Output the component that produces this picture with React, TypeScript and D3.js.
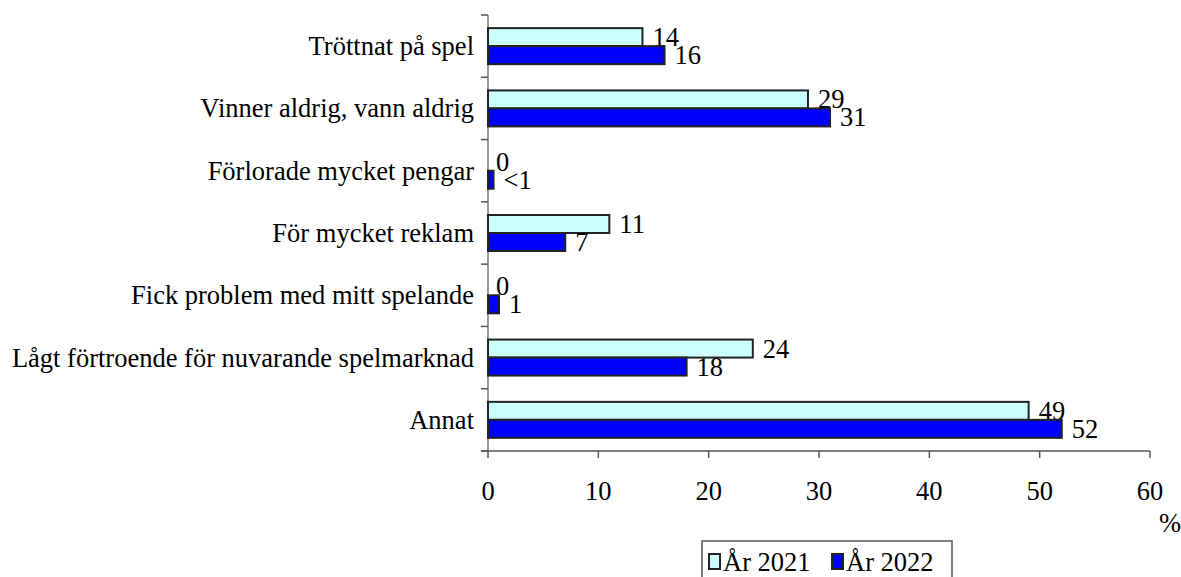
import React, { useEffect, useRef } from "react";
import * as d3 from "d3";

const categories = [
  "Tröttnat på spel",
  "Vinner aldrig, vann aldrig",
  "Förlorade mycket pengar",
  "För mycket reklam",
  "Fick problem med mitt spelande",
  "Lågt förtroende för nuvarande spelmarknad",
  "Annat",
];
const seriesNames = ["År 2021", "År 2022"];
const values2021 = [14, 29, 0, 11, 0, 24, 49];
const values2022 = [16, 31, 0.5, 7, 1, 18, 52];
const labels2021 = ["14", "29", "0", "11", "0", "24", "49"];
const labels2022 = ["16", "31", "<1", "7", "1", "18", "52"];
const xTicks = [0, 10, 20, 30, 40, 50, 60];
const colors = ["#CCFFFF", "#0000FF"];

const App = () => {
  const svgRef = useRef<SVGSVGElement>(null);

  useEffect(() => {
    const width = 1181;
    const height = 577;

    const svg = d3.select(svgRef.current);
    svg.selectAll("*").remove();
    svg
      .attr("width", width)
      .attr("height", height)
      .attr("font-family", "Liberation Serif, Times New Roman, serif")
      .attr("font-size", 26.5);

    const x = d3.scaleLinear().domain([0, 60]).range([488, 1150]);
    const y = d3.scaleBand<string>().domain(categories).range([15, 451]).padding(0);
    const yInner = d3
      .scaleBand<string>()
      .domain(seriesNames)
      .range([0, y.bandwidth()])
      .paddingInner(0)
      .paddingOuter(0.73);

    const rows = categories.map((c, i) => ({
      cat: c,
      vals: [values2021[i], values2022[i]],
      labs: [labels2021[i], labels2022[i]],
    }));

    // y axis line + ticks at band boundaries
    svg
      .append("line")
      .attr("x1", x(0))
      .attr("x2", x(0))
      .attr("y1", 15)
      .attr("y2", 451)
      .attr("stroke", "#777")
      .attr("stroke-width", 1.5);

    const boundaries = categories.map((c) => y(c)!).concat([451]);
    svg
      .selectAll("line.ytick")
      .data(boundaries)
      .enter()
      .append("line")
      .attr("x1", x(0) - 7)
      .attr("x2", x(0))
      .attr("y1", (d) => d)
      .attr("y2", (d) => d)
      .attr("stroke", "#555")
      .attr("stroke-width", 1.5);

    // x axis
    svg
      .append("line")
      .attr("x1", x(0) - 7)
      .attr("x2", x(60))
      .attr("y1", 451)
      .attr("y2", 451)
      .attr("stroke", "#555")
      .attr("stroke-width", 1.5);

    svg
      .selectAll("line.xtick")
      .data(xTicks)
      .enter()
      .append("line")
      .attr("x1", (d) => x(d))
      .attr("x2", (d) => x(d))
      .attr("y1", 451)
      .attr("y2", 458)
      .attr("stroke", "#555")
      .attr("stroke-width", 1.5);

    svg
      .selectAll("text.xlab")
      .data(xTicks)
      .enter()
      .append("text")
      .attr("x", (d) => x(d))
      .attr("y", 500)
      .attr("text-anchor", "middle")
      .text((d) => d);

    svg.append("text").attr("x", 1159).attr("y", 532).text("%");

    // category labels
    svg
      .selectAll("text.cat")
      .data(categories)
      .enter()
      .append("text")
      .attr("x", 474)
      .attr("y", (d) => y(d)! + y.bandwidth() / 2 + 9)
      .attr("text-anchor", "end")
      .text((d) => d);

    // bars + value labels
    const g = svg
      .selectAll("g.row")
      .data(rows)
      .enter()
      .append("g")
      .attr("transform", (d) => `translate(0,${y(d.cat)})`);

    seriesNames.forEach((s, si) => {
      g.filter((d) => d.vals[si] > 0)
        .append("rect")
        .attr("x", x(0))
        .attr("y", yInner(s)!)
        .attr("width", (d) => x(d.vals[si]) - x(0))
        .attr("height", yInner.bandwidth())
        .attr("fill", colors[si])
        .attr("stroke", "#222")
        .attr("stroke-width", 2);

      g.append("text")
        .attr("x", (d) => x(d.vals[si]) + (d.vals[si] > 0 ? 10 : 8))
        .attr("y", yInner(s)! + yInner.bandwidth() / 2 + 9)
        .text((d) => d.labs[si]);
    });

    // legend
    const legend = svg.append("g");
    legend
      .append("rect")
      .attr("x", 702)
      .attr("y", 541)
      .attr("width", 250)
      .attr("height", 60)
      .attr("fill", "white")
      .attr("stroke", "#555")
      .attr("stroke-width", 1.5);

    const legendX = [709, 832];
    seriesNames.forEach((s, si) => {
      legend
        .append("rect")
        .attr("x", legendX[si])
        .attr("y", 554)
        .attr("width", 11)
        .attr("height", 15)
        .attr("fill", colors[si])
        .attr("stroke", "#222")
        .attr("stroke-width", 2);
      legend
        .append("text")
        .attr("x", legendX[si] + 14)
        .attr("y", 571)
        .text(s);
    });
  }, []);

  return (
    <svg
      ref={svgRef}
      style={{ position: "absolute", left: 0, top: 0, display: "block" }}
    ></svg>
  );
};

export default App;
